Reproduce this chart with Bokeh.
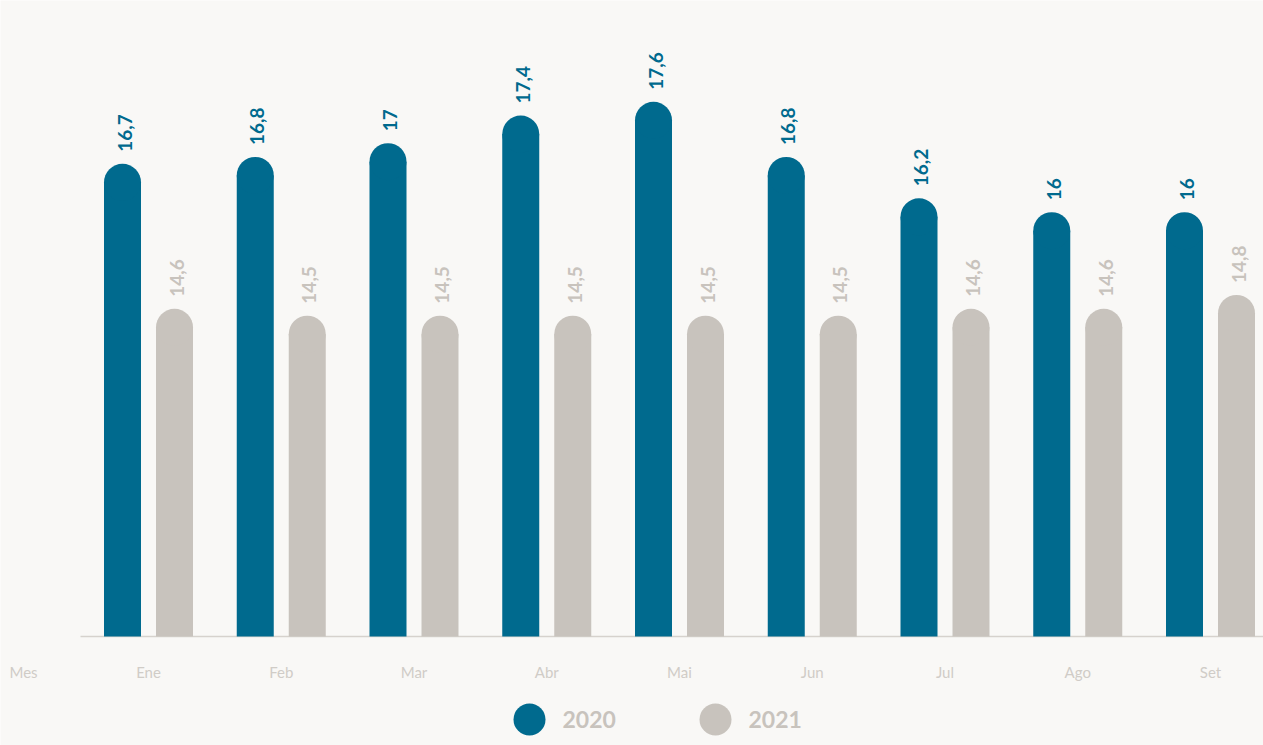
import math

from bokeh.core.properties import value
from bokeh.embed import file_html
from bokeh.models import ColumnDataSource, Range1d
from bokeh.plotting import figure
from bokeh.resources import INLINE

# ---- data -------------------------------------------------------------
months = ["Ene", "Feb", "Mar", "Abr", "Mai", "Jun", "Jul", "Ago", "Set"]
axis_title = "Mes"
series_names = ["2020", "2021"]
values_2020 = [16.7, 16.8, 17, 17.4, 17.6, 16.8, 16.2, 16, 16]
values_2021 = [14.6, 14.5, 14.5, 14.5, 14.5, 14.5, 14.6, 14.6, 14.8]

# ---- layout / style ---------------------------------------------------
W, H = 1263, 745
BLUE = "#006a8e"
GRAY = "#c8c3bd"
LABEL_GRAY = "#d0ccc7"
BG = "#f9f8f6"
FONT = "Lato"

BASELINE_PX = 636      # screen row of the baseline
BASE_VALUE = 9.85      # value sitting on the baseline
PPU = 69.0             # pixels per unit on the value scale
GROUP_PX = 132.75      # pixels between month groups
FIRST_PX = 148         # screen column of the first group centre
BAR_PX = 37            # bar width in pixels
OFFSET_PX = 26         # half distance between the two bars of a group

x_start = -FIRST_PX / GROUP_PX
x_end = x_start + W / GROUP_PX
y_start = BASE_VALUE - (H - BASELINE_PX) / PPU
y_end = BASE_VALUE + BASELINE_PX / PPU


def sx_to_x(sx):
    return (sx - FIRST_PX) / GROUP_PX


def sy_to_y(sy):
    return BASE_VALUE + (BASELINE_PX - sy) / PPU


def fmt(v):
    return f"{v:g}".replace(".", ",")


p = figure(
    width=W, height=H,
    x_range=Range1d(x_start, x_end), y_range=Range1d(y_start, y_end),
    x_axis_location=None, y_axis_location=None,
    toolbar_location=None, output_backend="svg",
    min_border=0,
)
p.outline_line_color = None
p.grid.visible = False
p.background_fill_color = BG
p.border_fill_color = BG

# baseline
p.segment(x0=[sx_to_x(80)], y0=[BASE_VALUE], x1=[x_end], y1=[BASE_VALUE],
          line_color="#d6d2cd", line_width=1.5)

bar_w = BAR_PX / GROUP_PX
cap_r = BAR_PX / 2 / PPU
off = OFFSET_PX / GROUP_PX

for vals, color, label_color, shift in [
    (values_2020, BLUE, BLUE, -off),
    (values_2021, GRAY, GRAY, off),
]:
    xs = [i + shift for i in range(len(months))]
    src = ColumnDataSource(dict(
        x=xs,
        top=[v - cap_r for v in vals],
        val=vals,
        label=[fmt(v) for v in vals],
    ))
    # bar body plus rounded cap
    p.vbar(x="x", top="top", bottom=BASE_VALUE, width=bar_w, source=src,
           fill_color=color, line_color=None)
    p.scatter(x="x", y="top", size=BAR_PX, marker="circle", source=src,
              fill_color=color, line_color=None)
    # value labels, rotated
    p.text(x="x", y="val", text="label", source=src, angle=math.pi / 2,
           text_align="left", text_baseline="middle",
           x_offset=2, y_offset=-12,
           text_color=label_color, text_font=value(FONT),
           text_font_style="bold", text_font_size="19px")

# month labels
p.text(x=[sx_to_x(23)] + list(range(len(months))),
       y=[sy_to_y(671)] * (len(months) + 1),
       text=[axis_title] + months,
       text_align="center", text_baseline="alphabetic",
       text_color=LABEL_GRAY, text_font=value(FONT),
       text_font_size="15px")

# legend
legend_sx = [529, 715]
legend_colors = [BLUE, GRAY]
p.scatter(x=[sx_to_x(s) for s in legend_sx], y=[sy_to_y(719)] * 2,
          size=32, marker="circle", fill_color=legend_colors, line_color=None)
p.text(x=[sx_to_x(s + 33) for s in legend_sx], y=[sy_to_y(719)] * 2,
       text=series_names, text_align="left", text_baseline="middle",
       text_color=GRAY, text_font=value(FONT), text_font_style="bold",
       text_font_size="23px")

open("out.html", "w").write(file_html(p, INLINE))
